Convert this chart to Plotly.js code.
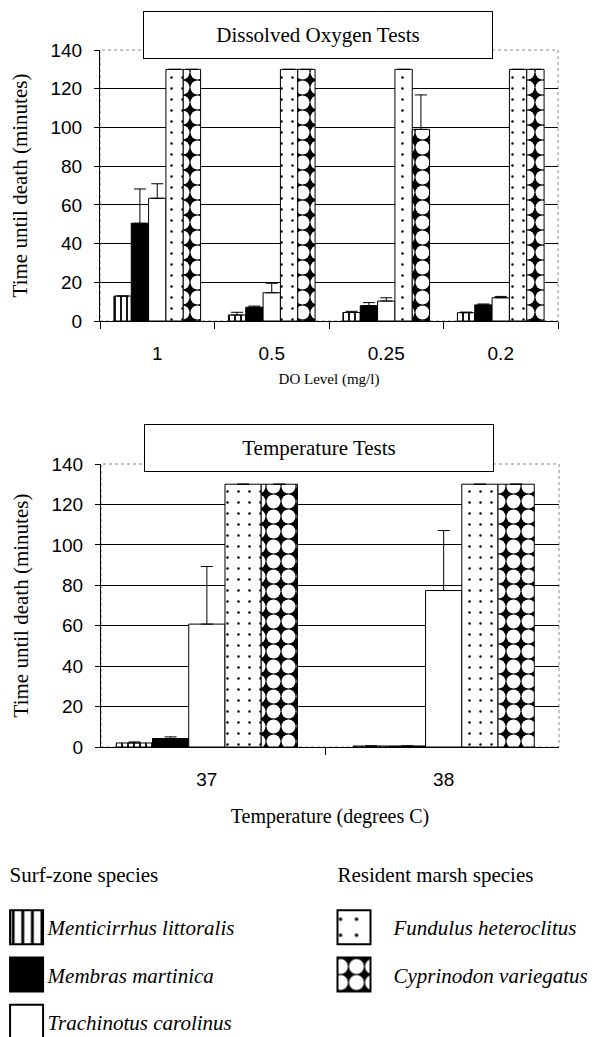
<!DOCTYPE html>
<html><head><meta charset="utf-8">
<script src="https://cdn.plot.ly/plotly-3.0.1.min.js"></script>
<style>body{margin:0;background:#fff;} #top{width:597px;height:420px;} #bot{width:597px;height:617px;}</style>
</head><body><div id="top"></div><div id="bot"></div>
<script>
// ---- data ----
const doLevels = ['1', '0.5', '0.25', '0.2'];
const temps = ['37', '38'];
const species = ['Menticirrhus littoralis', 'Membras martinica', 'Trachinotus carolinus', 'Fundulus heteroclitus', 'Cyprinodon variegatus'];

const doMenti = [12.9, 3.1, 4.4, 4.3];
const doMentiErr = [0, 1.4, 0.6, 0.3];
const doMembras = [50.5, 7.1, 7.9, 8.3];
const doMembrasErr = [17.7, 0.6, 1.6, 0.5];
const doTrach = [63.4, 14.6, 10.3, 12.0];
const doTrachErr = [7.5, 4.9, 1.7, 0.7];
const doFund = [130, 130, 130, 130];
const doFundErr = [0, 0, 0, 0];
const doCyp = [130, 130, 99, 130];
const doCypErr = [0, 0, 17.8, 0];

const tMenti = [2.0, 0.5];
const tMentiErr = [0.5, 0];
const tMembras = [4.2, 0.5];
const tMembrasErr = [0.8, 0];
const tTrach = [60.8, 77.4];
const tTrachErr = [28.5, 29.7];
const tFund = [130, 130];
const tFundErr = [0, 0];
const tCyp = [130, 130];
const tCypErr = [0, 0];

// ---- styles ----
const SANS = 'Liberation Sans, Arial, sans-serif';
const SERIF = 'Liberation Serif, Times New Roman, serif';
const markers = [
  {color: 'white', line: {color: 'black', width: 1}, pattern: {shape: '|', fgcolor: 'black', bgcolor: 'white', size: 6, solidity: 0.3}},
  {color: 'black', line: {color: 'black', width: 1}},
  {color: 'white', line: {color: 'black', width: 1}},
  {color: 'white', line: {color: 'black', width: 1}, pattern: {shape: '.', fgcolor: 'black', bgcolor: 'white', size: 11, solidity: 0.04}},
  {color: 'black', line: {color: 'black', width: 1}, pattern: {shape: '.', fgcolor: 'white', bgcolor: 'black', size: 15, solidity: 0.68}}
];

function mk(x, ys, errs, showlegend) {
  return ys.map((y, i) => ({
    type: 'bar', x: x, y: y, name: species[i],
    marker: markers[i],
    error_y: {type: 'data', symmetric: false, array: errs[i], arrayminus: y.map(() => 0), color: 'black', thickness: 1, width: 6},
    showlegend: showlegend,
    legend: i < 3 ? 'legend' : 'legend2',
    legendgroup: 'g' + i
  }));
}

function yaxis() {
  return {
    range: [0, 140], dtick: 20, tick0: 0, fixedrange: true,
    showgrid: true, gridcolor: 'black', gridwidth: 1,
    showline: true, linecolor: 'black', linewidth: 1,
    ticks: 'outside', ticklen: 5, tickcolor: 'black', ticklabelstandoff: 8,
    tickfont: {family: SANS, size: 19, color: 'black'},
    zeroline: false,
    title: {text: 'Time until death (minutes)', font: {family: SERIF, size: 21, color: 'black'}, standoff: 17}
  };
}
function xaxis(title, tsize, standoff, range) {
  const ax = {
    type: 'category', tickson: 'boundaries',
    ticks: 'outside', ticklen: 7, tickcolor: 'black', ticklabelstandoff: 15,
    showline: true, linecolor: 'black', linewidth: 1,
    showgrid: false, zeroline: false,
    tickfont: {family: SANS, size: 19, color: 'black'},
    title: {text: title, font: {family: SERIF, size: tsize, color: 'black'}, standoff: standoff}
  };
  if (range) ax.range = range;
  return ax;
}
const border = {type: 'rect', xref: 'paper', yref: 'paper', x0: 0, x1: 1, y0: 0, y1: 1,
  line: {color: '#888', width: 1, dash: 'dot'}, layer: 'below'};

function titleBox(text, x, y) {
  return {
    text: text, xref: 'paper', yref: 'paper', x: x, y: y,
    xanchor: 'center', yanchor: 'middle', showarrow: false,
    width: 344, height: 42, borderpad: 2, bordercolor: 'black', borderwidth: 1, bgcolor: 'white',
    font: {family: SERIF, size: 21, color: 'black'}
  };
}

const topLayout = {
  width: 597, height: 420,
  margin: {l: 100, r: 39, t: 50, b: 99, autoexpand: false},
  paper_bgcolor: 'white', plot_bgcolor: 'white',
  barmode: 'group', bargap: 0.243, bargroupgap: 0,
  showlegend: false,
  xaxis: xaxis('DO Level (mg/l)', 15, 10),
  yaxis: yaxis(),
  shapes: [border],
  annotations: [titleBox('Dissolved Oxygen Tests', 0.477, 1.0554)]
};

const legendBase = {
  xanchor: 'left', yanchor: 'top',
  y: -0.391, orientation: 'v', bgcolor: 'rgba(0,0,0,0)', borderwidth: 0,
  font: {family: SERIF, size: 21, color: 'black', style: 'italic'},
  tracegroupgap: 17, traceorder: 'grouped'
};
const legTitleFont = {family: SERIF, size: 19, color: 'black', style: 'normal'};

const botLayout = {
  width: 597, height: 617,
  margin: {l: 101, r: 37.5, t: 44.3, b: 290.3, autoexpand: false},
  paper_bgcolor: 'white', plot_bgcolor: 'white',
  barmode: 'group', bargap: 0.235, bargroupgap: 0,
  showlegend: true,
  xaxis: xaxis('Temperature (degrees C)', 20, 20, [-0.447, 1.487]),
  yaxis: yaxis(),
  shapes: [border],
  legend: Object.assign({}, legendBase, {x: -0.204, itemwidth: 30,
    title: {text: '<span style="font-size:21px">Surf-zone species</span><br> ', side: 'top', font: legTitleFont}}),
  legend2: Object.assign({}, legendBase, {x: 0.512, itemwidth: 48,
    title: {text: '<span style="font-size:21px">Resident marsh species</span><br> ', side: 'top', font: legTitleFont}}),
  annotations: [titleBox('Temperature Tests', 0.4766, 1.0577)]
};

const cfg = {staticPlot: true, displayModeBar: false};
Plotly.newPlot('top', mk(doLevels, [doMenti, doMembras, doTrach, doFund, doCyp], [doMentiErr, doMembrasErr, doTrachErr, doFundErr, doCypErr], false), topLayout, cfg);
Plotly.newPlot('bot', mk(temps, [tMenti, tMembras, tTrach, tFund, tCyp], [tMentiErr, tMembrasErr, tTrachErr, tFundErr, tCypErr], true), botLayout, cfg).then(function () {
  // enlarge legend swatches (drawn at half size, scaled x2) to match the reference's key boxes
  function grow(sel, d) {
    document.querySelectorAll(sel).forEach(function (p) {
      var t = p.getAttribute('transform') || '';
      p.setAttribute('d', d);
      p.setAttribute('transform', t + ' scale(2)');
    });
  }
  grow('#bot g.legend .legendpoints path', 'M7.75,8.5H-8.75V-8.5H7.75Z');
  grow('#bot g.legend2 .legendpoints path', 'M3,8.5H-13.5V-8.5H3Z');
});
</script>
</body></html>
